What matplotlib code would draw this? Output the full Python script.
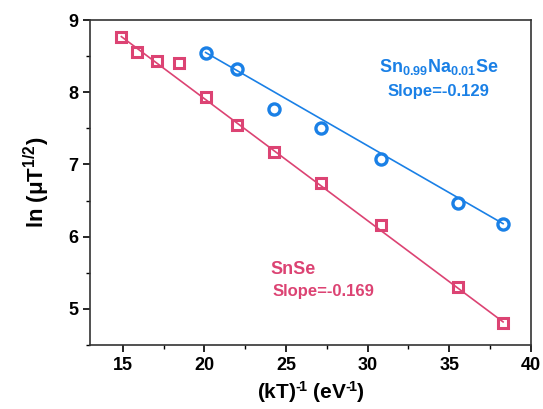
import matplotlib
matplotlib.use("Agg")
import matplotlib.pyplot as plt
from matplotlib.ticker import MultipleLocator

plt.rcParams["font.family"] = ["Liberation Sans", "DejaVu Sans"]
plt.rcParams["font.weight"] = "bold"
plt.rcParams["mathtext.fontset"] = "custom"
plt.rcParams["mathtext.rm"] = "Liberation Sans:bold"
plt.rcParams["mathtext.it"] = "Liberation Sans:bold"
plt.rcParams["mathtext.bf"] = "Liberation Sans:bold"

# SnSe data
snse_x = [14.92, 15.87, 17.09, 18.46, 20.08, 21.97, 24.27, 27.15, 30.81, 35.55, 38.29]
snse_y = [8.77, 8.56, 8.43, 8.40, 7.94, 7.55, 7.17, 6.75, 6.16, 5.31, 4.81]
snse_fit_x = [14.92, 38.29]
snse_fit_y = [8.77, 4.82]

# Sn0.99Na0.01Se data
na_x = [20.08, 21.97, 24.27, 27.15, 30.81, 35.55, 38.29]
na_y = [8.55, 8.32, 7.77, 7.50, 7.07, 6.47, 6.18]
na_fit_x = [20.08, 38.29]
na_fit_y = [8.55, 6.18]

blue = "#1a80e6"
pink = "#dc4373"

fig = plt.figure(figsize=(5.43, 4.09), dpi=100)
ax = fig.add_axes([90 / 543, 1 - 345 / 409, 441 / 543, 325 / 409])

ax.plot(snse_fit_x, snse_fit_y, color=pink, lw=1.2)
ax.plot(na_fit_x, na_fit_y, color=blue, lw=1.2)
ax.plot(snse_x, snse_y, "s", ms=7, mfc="none", mec=pink, mew=2.2)
ax.plot(na_x, na_y, "o", ms=8, mfc="none", mec=blue, mew=2.4)

ax.set_xlim(13, 40)
ax.set_ylim(4.5, 9)
ax.xaxis.set_major_locator(MultipleLocator(5))
ax.xaxis.set_minor_locator(MultipleLocator(2.5))
ax.yaxis.set_major_locator(MultipleLocator(1))
ax.yaxis.set_minor_locator(MultipleLocator(0.5))
ax.tick_params(which="both", direction="out", labelsize=13)
ax.tick_params(which="major", length=5, width=1.2)
ax.tick_params(which="minor", length=3, width=1)
for sp in ax.spines.values():
    sp.set_linewidth(1.2)
    sp.set_color("#333333")

ax.set_xlabel("(kT)$^{\u2010\\!1}$ (eV$^{\u2010\\!1}$)", fontsize=15, fontweight="bold", labelpad=4)
ax.set_ylabel(r"ln ($\mu$T$^{1/2}$)", fontsize=16, fontweight="bold", labelpad=12)

ax.text(0.655, 0.84, r"Sn$_{0.99}$Na$_{0.01}$Se", transform=ax.transAxes,
        color=blue, fontsize=13, fontweight="bold")
ax.text(0.675, 0.765, "Slope=-0.129", transform=ax.transAxes,
        color=blue, fontsize=12, fontweight="bold")
ax.text(0.41, 0.22, "SnSe", transform=ax.transAxes,
        color=pink, fontsize=13, fontweight="bold")
ax.text(0.415, 0.15, "Slope=-0.169", transform=ax.transAxes,
        color=pink, fontsize=12, fontweight="bold")

fig.savefig("out.png", dpi=100)
